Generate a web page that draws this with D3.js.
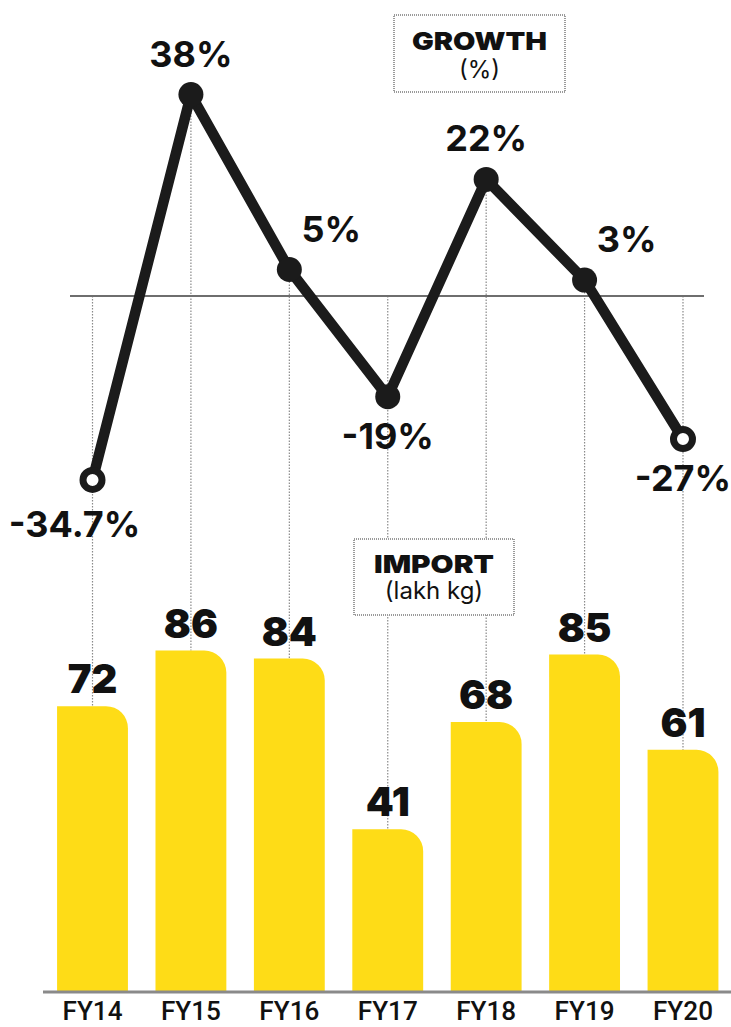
<!DOCTYPE html>
<html>
<head>
<meta charset="utf-8">
<script src="https://cdn.jsdelivr.net/npm/d3@7"></script>
<style>
  html, body { margin: 0; padding: 0; background: #fff; }
  svg { display: block; }
</style>
</head>
<body>
<svg id="chart" width="731" height="1027"></svg>
<script>
// Fiscal years, import volume (lakh kg) and year-on-year growth (%)
const years = ["FY14", "FY15", "FY16", "FY17", "FY18", "FY19", "FY20"];
const importValues = [72, 86, 84, 41, 68, 85, 61];
const growthValues = [-34.7, 38, 5, -19, 22, 3, -27];
const growthLabels = ["-34.7%", "38%", "5%", "-19%", "22%", "3%", "-27%"];
// growth points drawn as open rings (others filled)
const openPoints = ["FY14", "FY20"];
// where each growth label sits relative to its point
const growthLabelPlacement = ["belowLeft", "above", "aboveRight", "below", "above", "aboveRight", "below"];

const W = 731, H = 1027;
const svg = d3.select("#chart");
const bold = "Inter, 'DejaVu Sans', sans-serif";
const axisFont = "Roboto, 'Liberation Sans', sans-serif";

const x = d3.scaleBand().domain(years).range([43.3, 732.2]).paddingInner(0.28).paddingOuter(0.14);
const cx = d => x(d) + x.bandwidth() / 2;

// bar value scale and growth scale
const yBar = d3.scaleLinear().domain([0, 100]).range([992, 595]);
const yGrowth = d3.scaleLinear().domain([-40, 40]).range([508, 84]);

const BLACK = "#1b1b1b";
const YELLOW = "#fedc17";
const GRID = "#8a8a8a";

// vertical dotted guides from the growth point (or zero line) down to the bar
const guides = svg.append("g");
years.forEach((yr, i) => {
  const top = Math.min(yGrowth(growthValues[i]), yGrowth(0));
  guides.append("line")
    .attr("x1", cx(yr)).attr("x2", cx(yr))
    .attr("y1", top).attr("y2", yBar(importValues[i]))
    .attr("stroke", GRID).attr("stroke-width", 1.2)
    .attr("stroke-dasharray", "1.5,1.5");
});

// zero line of the growth panel
svg.append("line")
  .attr("x1", 70).attr("x2", 704)
  .attr("y1", yGrowth(0)).attr("y2", yGrowth(0))
  .attr("stroke", "#6e6e6e").attr("stroke-width", 2);

// bars with rounded top-right corner
const r = 22;
svg.append("g").selectAll("path")
  .data(years)
  .join("path")
  .attr("d", (yr, i) => {
    const x0 = x(yr), w = x.bandwidth();
    const top = yBar(importValues[i]), base = yBar(0);
    return `M${x0},${base}V${top}H${x0 + w - r}A${r},${r} 0 0 1 ${x0 + w},${top + r}V${base}Z`;
  })
  .attr("fill", YELLOW);

// bar value labels
svg.append("g").selectAll("text")
  .data(years)
  .join("text")
  .attr("x", cx)
  .attr("y", (yr, i) => yBar(importValues[i]) - 13)
  .attr("text-anchor", "middle")
  .attr("font-family", bold).attr("font-weight", 900)
  .attr("font-size", 40).attr("fill", "#111")
  .text((yr, i) => importValues[i]);

// baseline axis
svg.append("line")
  .attr("x1", 43).attr("x2", W)
  .attr("y1", yBar(0)).attr("y2", yBar(0))
  .attr("stroke", "#8a8a8a").attr("stroke-width", 3);

const xAxis = svg.append("g")
  .attr("transform", `translate(0,${yBar(0)})`)
  .call(d3.axisBottom(x).tickSize(0).tickPadding(0));
xAxis.select(".domain").remove();
xAxis.selectAll("text")
  .attr("dy", 28)
  .attr("font-family", axisFont).attr("font-weight", 500)
  .attr("font-size", 26).attr("fill", "#111")
  .attr("textLength", 60).attr("lengthAdjust", "spacingAndGlyphs");

// growth line
const line = d3.line()
  .x((d, i) => cx(years[i]))
  .y(d => yGrowth(d));
svg.append("path")
  .datum(growthValues)
  .attr("d", line)
  .attr("fill", "none")
  .attr("stroke", BLACK).attr("stroke-width", 10.5)
  .attr("stroke-linejoin", "round");

// growth points
svg.append("g").selectAll("circle")
  .data(years)
  .join("circle")
  .attr("cx", cx)
  .attr("cy", (yr, i) => yGrowth(growthValues[i]))
  .attr("r", yr => openPoints.includes(yr) ? 9.5 : 12.5)
  .attr("fill", yr => openPoints.includes(yr) ? "#fff" : BLACK)
  .attr("stroke", BLACK)
  .attr("stroke-width", yr => openPoints.includes(yr) ? 7 : 0);

// growth labels
const offsets = {
  above: [0, -28],
  below: [0, 52],
  aboveRight: [42, -28],
  belowLeft: [-18, 57]
};
svg.append("g").selectAll("text")
  .data(years)
  .join("text")
  .attr("x", (yr, i) => cx(yr) + offsets[growthLabelPlacement[i]][0])
  .attr("y", (yr, i) => yGrowth(growthValues[i]) + offsets[growthLabelPlacement[i]][1])
  .attr("text-anchor", "middle")
  .attr("font-family", bold).attr("font-weight", 700)
  .attr("font-size", 36).attr("fill", "#111")
  .text((yr, i) => growthLabels[i]);

// legend boxes
function legendBox(x0, y0, w, h, title, sub, titleLen, titleY, subY) {
  const g = svg.append("g");
  g.append("rect")
    .attr("x", x0).attr("y", y0).attr("width", w).attr("height", h)
    .attr("fill", "#fff")
    .attr("stroke", "#9a9a9a").attr("stroke-width", 2)
    .attr("stroke-dasharray", "1,1");
  g.append("text")
    .attr("x", x0 + w / 2).attr("y", y0 + titleY)
    .attr("text-anchor", "middle")
    .attr("font-family", bold).attr("font-weight", 900)
    .attr("font-size", 25).attr("fill", "#111")
    .attr("textLength", titleLen).attr("lengthAdjust", "spacingAndGlyphs")
    .text(title);
  g.append("text")
    .attr("x", x0 + w / 2).attr("y", y0 + subY)
    .attr("text-anchor", "middle")
    .attr("font-family", bold).attr("font-weight", 400)
    .attr("font-size", 24).attr("fill", "#111")
    .text(sub);
}
legendBox(394, 15, 171, 77, "GROWTH", "(%)", 135, 35, 63);
legendBox(354, 539, 160, 76, "IMPORT", "(lakh kg)", 120, 34, 60);
</script>
</body>
</html>
